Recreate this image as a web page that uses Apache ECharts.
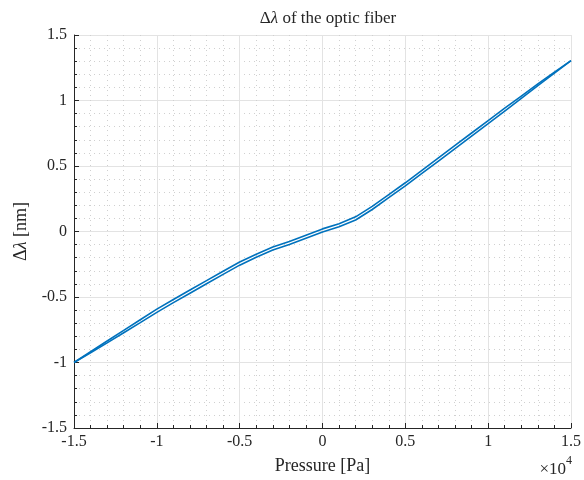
<!DOCTYPE html>
<html>
<head>
<meta charset="utf-8">
<script src="https://cdn.jsdelivr.net/npm/echarts@6/dist/echarts.min.js"></script>
<style>
  html, body { margin: 0; padding: 0; background: #fff; }
  #chart { width: 584px; height: 480px; }
</style>
</head>
<body>
<div id="chart"></div>
<script>
// pressure steps [Pa]
var pressure = [-15000, -14000, -13000, -12000, -11000, -10000, -9000, -8000, -7000, -6000,
  -5000, -4000, -3000, -2000, -1000, 0, 1000, 2000, 3000, 4000, 5000, 6000, 7000, 8000,
  9000, 10000, 11000, 12000, 13000, 14000, 15000];
// upper branch of the loop [nm]
var upperBranch = [-1.0, -0.918, -0.836, -0.755, -0.674, -0.593, -0.519, -0.447, -0.375, -0.303,
  -0.233, -0.173, -0.118, -0.076, -0.028, 0.020, 0.060, 0.112, 0.192, 0.282, 0.372, 0.467,
  0.562, 0.657, 0.752, 0.847, 0.941, 1.034, 1.127, 1.217, 1.305];
// lower branch of the loop [nm]
var lowerBranch = [-1.0, -0.926, -0.850, -0.773, -0.696, -0.617, -0.543, -0.471, -0.399, -0.327,
  -0.257, -0.197, -0.142, -0.100, -0.052, -0.004, 0.036, 0.088, 0.168, 0.258, 0.348, 0.443,
  0.538, 0.633, 0.728, 0.823, 0.919, 1.016, 1.113, 1.209, 1.305];

var xTicks = [-15000, -10000, -5000, 0, 5000, 10000, 15000];
var yTicks = [-1.5, -1, -0.5, 0, 0.5, 1, 1.5];

var fontFam = '"Liberation Serif", "DejaVu Serif", serif';
var textCol = '#262626';
var lineCol = '#0072BD';

function pairs(xs, ys) {
  return xs.map(function (x, i) { return [x, ys[i]]; });
}

var chart = echarts.init(document.getElementById('chart'));

var axisCommon = {
  type: 'value',
  axisLine: { show: true, onZero: false, lineStyle: { color: textCol, width: 1 } },
  axisTick: { show: true, inside: true, length: 5, lineStyle: { color: textCol } },
  minorTick: { show: true, splitNumber: 5, length: 3, lineStyle: { color: textCol } },
  splitLine: { show: true, lineStyle: { color: '#e3e3e3', width: 1 } },
  minorSplitLine: { show: true, lineStyle: { color: '#d0d0d0', width: 1, type: [1, 4] } },
  axisLabel: { color: textCol, fontFamily: fontFam, fontSize: 16 }
};

chart.setOption({
  animation: false,
  backgroundColor: '#fff',
  title: {
    text: '{n|Δ}{i|λ}{n| of the optic fiber}',
    left: 323,
    textAlign: 'center',
    top: 5,
    textStyle: {
      fontWeight: 'normal',
      rich: {
        n: { fontFamily: fontFam, fontSize: 17, color: textCol, fontWeight: 'normal' },
        i: { fontFamily: fontFam, fontSize: 17, color: textCol, fontStyle: 'italic', fontWeight: 'normal' }
      }
    }
  },
  grid: { left: 74, right: 12, top: 35, bottom: 52, containLabel: false },
  xAxis: Object.assign({}, axisCommon, {
    min: xTicks[0],
    max: xTicks[xTicks.length - 1],
    interval: 5000,
    axisLabel: Object.assign({}, axisCommon.axisLabel, {
      margin: 6,
      formatter: function (v) { return String(v / 10000); }
    }),
    name: 'Pressure [Pa]',
    nameLocation: 'middle',
    nameGap: 29,
    nameTextStyle: { fontFamily: fontFam, fontSize: 18, color: textCol }
  }),
  yAxis: Object.assign({}, axisCommon, {
    min: yTicks[0],
    max: yTicks[yTicks.length - 1],
    interval: 0.5,
    axisLabel: Object.assign({}, axisCommon.axisLabel, {
      margin: 7,
      formatter: function (v) { return String(v); }
    }),
    name: '{n|Δ}{i|λ}{n| [nm]}',
    nameLocation: 'middle',
    nameGap: 44,
    nameTextStyle: {
      rich: {
        n: { fontFamily: fontFam, fontSize: 18, color: textCol },
        i: { fontFamily: fontFam, fontSize: 18, color: textCol, fontStyle: 'italic' }
      }
    }
  }),
  graphic: [{
    type: 'text',
    right: 12,
    top: 455,
    style: {
      text: '{a|×10}{s|4}',
      rich: {
        a: { fontFamily: fontFam, fontSize: 17, fill: textCol, verticalAlign: 'bottom', padding: [6, 0, 0, 0] },
        s: { fontFamily: fontFam, fontSize: 12, fill: textCol, verticalAlign: 'top' }
      }
    }
  }],
  series: [
    {
      type: 'line',
      data: pairs(pressure, upperBranch),
      showSymbol: false,
      lineStyle: { color: lineCol, width: 1.6 }
    },
    {
      type: 'line',
      data: pairs(pressure, lowerBranch),
      showSymbol: false,
      lineStyle: { color: lineCol, width: 1.6 }
    }
  ]
});
</script>
</body>
</html>
